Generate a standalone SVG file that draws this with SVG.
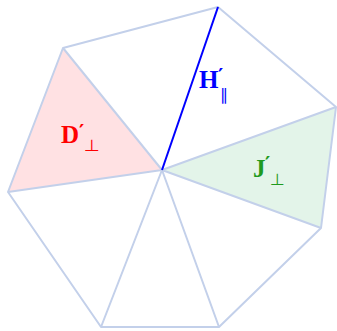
<svg xmlns="http://www.w3.org/2000/svg" width="337" height="331" viewBox="0 0 337 331">
<style>
.e{stroke:#c3d0ea;stroke-width:2;fill:none;stroke-linejoin:round}
.t{font-family:"Liberation Serif",serif;font-weight:bold;font-size:25px}
.p{font-family:"DejaVu Sans",sans-serif;font-weight:bold;font-size:20px}
.s{font-family:"DejaVu Sans",sans-serif;font-size:16px}
</style>
<rect width="337" height="331" fill="#fff"/>
<g id="faces">
<polygon points="162,170 63,48 8,192" fill="#ffe1e3"/>
<polygon points="162,170 336,107 321,228" fill="#e3f4e9"/>
</g>
<g id="connectors">
<polygon class="e" points="218,7 336,107 321,228 219,327 101,327 8,192 63,48"/>
<path class="e" d="M162,170 L63,48 M162,170 L8,192 M162,170 L101,327 M162,170 L219,327 M162,170 L321,228 M162,170 L336,107"/>
<line x1="162" y1="170" x2="218" y2="7" stroke="#0000ff" stroke-width="2"/>
</g>
<g id="labelD" fill="#ff0000">
<text class="t" x="61" y="143">D</text>
<text class="p" x="79" y="138">′</text>
<text class="s" x="84" y="151" textLength="16" lengthAdjust="spacingAndGlyphs">⊥</text>
</g>
<g id="labelH" fill="#0000ff">
<text class="t" x="199" y="88">H</text>
<text class="p" x="218" y="82">′</text>
<text class="s" x="220" y="100">∥</text>
</g>
<g id="labelJ" fill="#1f9a1f">
<text class="t" x="253" y="177">J</text>
<text class="p" x="265" y="170">′</text>
<text class="s" x="270" y="185" textLength="15" lengthAdjust="spacingAndGlyphs">⊥</text>
</g>
</svg>
